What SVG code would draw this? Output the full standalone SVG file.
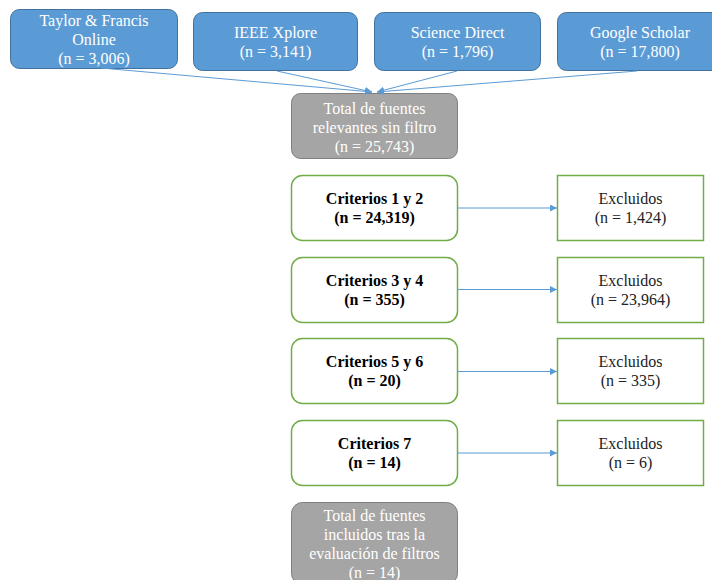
<svg xmlns="http://www.w3.org/2000/svg" width="712" height="580" viewBox="0 0 712 580">
<defs>
<marker id="ah" viewBox="0 0 10 10" refX="10" refY="5" markerWidth="7" markerHeight="7" markerUnits="userSpaceOnUse" orient="auto">
<path d="M0,0 L10,5 L0,10 z" fill="#5B9BD5"/>
</marker>
<style>
.src{fill:#5B9BD5;stroke:#41719C;stroke-width:1}
.gray{fill:#A5A5A5;stroke:#7F7F7F;stroke-width:1}
.crit{fill:#FFFFFF;stroke:#70AD47;stroke-width:1.5}
.exc{fill:#FFFFFF;stroke:#70AD47;stroke-width:1.5}
text{font-family:"Liberation Serif","Times New Roman",serif;font-size:16px;text-anchor:middle}
.w{fill:#FFFFFF}
.b{fill:#000000;font-weight:bold}
.k{fill:#222222}
.conn{stroke:#5B9BD5;stroke-width:1;fill:none;marker-end:url(#ah)}
</style>
</defs>
<g id="taylor">
<rect class="src" x="10.5" y="9.5" width="167" height="59" rx="9"/>
<text class="w" x="94" y="26">Taylor &amp; Francis</text>
<text class="w" x="94" y="45">Online</text>
<text class="w" x="94" y="64">(n = 3,006)</text>
</g>
<g id="ieee">
<rect class="src" x="193.5" y="12.5" width="164" height="58" rx="9"/>
<text class="w" x="275.5" y="38">IEEE Xplore</text>
<text class="w" x="275.5" y="57">(n = 3,141)</text>
</g>
<g id="science">
<rect class="src" x="374.5" y="12.5" width="166" height="58" rx="9"/>
<text class="w" x="457.5" y="38">Science Direct</text>
<text class="w" x="457.5" y="57">(n = 1,796)</text>
</g>
<g id="google">
<rect class="src" x="557.5" y="12.5" width="165" height="58" rx="9"/>
<text class="w" x="640" y="38">Google Scholar</text>
<text class="w" x="640" y="57">(n = 17,800)</text>
</g>
<g id="total">
<rect class="gray" x="291.5" y="93.5" width="166" height="65" rx="9"/>
<text class="w" x="374.5" y="114">Total de fuentes</text>
<text class="w" x="374.5" y="133">relevantes sin filtro</text>
<text class="w" x="374.5" y="152">(n = 25,743)</text>
</g>
<g id="crit12">
<rect class="crit" x="291.5" y="175.5" width="166" height="65" rx="11"/>
<text class="b" x="374.5" y="204">Criterios 1 y 2</text>
<text class="b" x="374.5" y="223">(n = 24,319)</text>
</g>
<g id="crit34">
<rect class="crit" x="291.5" y="257.5" width="166" height="65" rx="11"/>
<text class="b" x="374.5" y="286">Criterios 3 y 4</text>
<text class="b" x="374.5" y="305">(n = 355)</text>
</g>
<g id="crit56">
<rect class="crit" x="291.5" y="338.5" width="166" height="65" rx="11"/>
<text class="b" x="374.5" y="367">Criterios 5 y 6</text>
<text class="b" x="374.5" y="386">(n = 20)</text>
</g>
<g id="crit7">
<rect class="crit" x="291.5" y="420.5" width="166" height="65" rx="11"/>
<text class="b" x="374.5" y="449">Criterios 7</text>
<text class="b" x="374.5" y="468">(n = 14)</text>
</g>
<g id="exc1">
<rect class="exc" x="557.5" y="175.5" width="146" height="65"/>
<text class="k" x="630.5" y="204">Excluidos</text>
<text class="k" x="630.5" y="223">(n = 1,424)</text>
</g>
<g id="exc2">
<rect class="exc" x="557.5" y="257.5" width="146" height="65"/>
<text class="k" x="630.5" y="286">Excluidos</text>
<text class="k" x="630.5" y="305">(n = 23,964)</text>
</g>
<g id="exc3">
<rect class="exc" x="557.5" y="338.5" width="146" height="65"/>
<text class="k" x="630.5" y="367">Excluidos</text>
<text class="k" x="630.5" y="386">(n = 335)</text>
</g>
<g id="exc4">
<rect class="exc" x="557.5" y="420.5" width="146" height="65"/>
<text class="k" x="630.5" y="449">Excluidos</text>
<text class="k" x="630.5" y="468">(n = 6)</text>
</g>
<g id="final">
<rect class="gray" x="291.5" y="502.5" width="166" height="82" rx="11"/>
<text class="w" x="374.5" y="521">Total de fuentes</text>
<text class="w" x="374.5" y="540">incluidos tras la</text>
<text class="w" x="374.5" y="559">evaluación de filtros</text>
<text class="w" x="374.5" y="578">(n = 14)</text>
</g>
<g id="connectors">
<line class="conn" x1="101" y1="68" x2="372" y2="92"/>
<line class="conn" x1="277" y1="71" x2="372" y2="92"/>
<line class="conn" x1="457" y1="71" x2="377" y2="92"/>
<line class="conn" x1="637" y1="71" x2="377" y2="92"/>
<line class="conn" x1="458" y1="208" x2="557" y2="208"/>
<line class="conn" x1="458" y1="289.5" x2="557" y2="289.5"/>
<line class="conn" x1="458" y1="371.5" x2="557" y2="371.5"/>
<line class="conn" x1="458" y1="453" x2="557" y2="453"/>
</g>
</svg>
